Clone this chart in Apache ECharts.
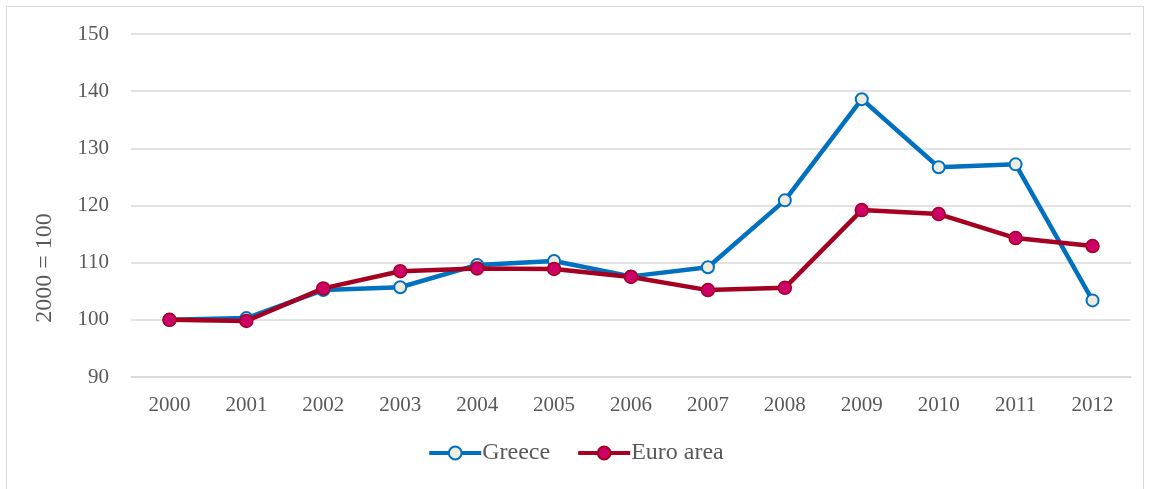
<!DOCTYPE html>
<html>
<head>
<meta charset="utf-8">
<script src="https://cdn.jsdelivr.net/npm/echarts@6/dist/echarts.min.js"></script>
<style>
  html, body { margin: 0; padding: 0; background: #fff; }
  #frame {
    position: absolute; left: 6px; top: 6px; width: 1138px; height: 490px;
    border: 1px solid #d9d9d9; box-sizing: border-box;
  }
  #chart { position: absolute; left: 0; top: 0; width: 1151px; height: 489px; }
</style>
</head>
<body>
<div id="frame"></div>
<div id="chart"></div>
<script>
// years on the x axis
const years = ['2000', '2001', '2002', '2003', '2004', '2005', '2006',
  '2007', '2008', '2009', '2010', '2011', '2012']
// index, 2000 = 100
const greece = [100, 100.3, 105.2, 105.7, 109.6, 110.3, 107.6, 109.2, 120.9, 138.6, 126.7, 127.2, 103.4]
const euroArea = [100, 99.8, 105.5, 108.5, 109.0, 108.9, 107.5, 105.2, 105.6, 119.2, 118.5, 114.3, 112.9]

const font = '"Liberation Serif", "DejaVu Serif", serif'
const textColor = '#595959'

const chartInstance = echarts.init(document.getElementById('chart'))

const option = {
  animation: false,
  textStyle: { fontFamily: font },
  grid: { left: 131, right: 20, top: 34, bottom: 112, containLabel: false },
  legend: {
    bottom: 19,
    left: 'center',
    itemWidth: 52,
    itemHeight: 16,
    itemGap: 26,
    textStyle: { fontFamily: font, fontSize: 24, color: textColor, padding: [0, 0, 0, -4] },
    data: [
      { name: 'Greece', lineStyle: { width: 4 } },
      { name: 'Euro area', lineStyle: { width: 4 } }
    ]
  },
  xAxis: {
    type: 'category',
    data: years,
    boundaryGap: true,
    axisLine: { show: true, lineStyle: { color: '#d9d9d9', width: 1.5 } },
    axisTick: { show: false },
    axisLabel: { color: textColor, fontSize: 21, margin: 18, fontFamily: font }
  },
  yAxis: {
    type: 'value',
    min: 90,
    max: 150,
    interval: 10,
    name: '2000 = 100',
    nameLocation: 'middle',
    nameGap: 74,
    nameTextStyle: { color: textColor, fontSize: 24, fontFamily: font, padding: [0, 0, 0, -125] },
    axisLine: { show: false },
    axisTick: { show: false },
    axisLabel: { color: textColor, fontSize: 21, margin: 22, fontFamily: font },
    splitLine: { lineStyle: { color: '#d9d9d9', width: 1.5 } }
  },
  series: [
    {
      name: 'Greece',
      type: 'line',
      data: greece,
      symbol: 'circle',
      symbolSize: 12,
      lineStyle: { color: '#0070c0', width: 4.5 },
      itemStyle: { color: '#eeece1', borderColor: '#0070c0', borderWidth: 2 },
      z: 2
    },
    {
      name: 'Euro area',
      type: 'line',
      data: euroArea,
      symbol: 'circle',
      symbolSize: 13,
      lineStyle: { color: '#a50021', width: 4.5 },
      itemStyle: { color: '#cc0066', borderColor: '#a50021', borderWidth: 1.5 },
      z: 3
    }
  ]
}

chartInstance.setOption(option)
</script>
</body>
</html>
